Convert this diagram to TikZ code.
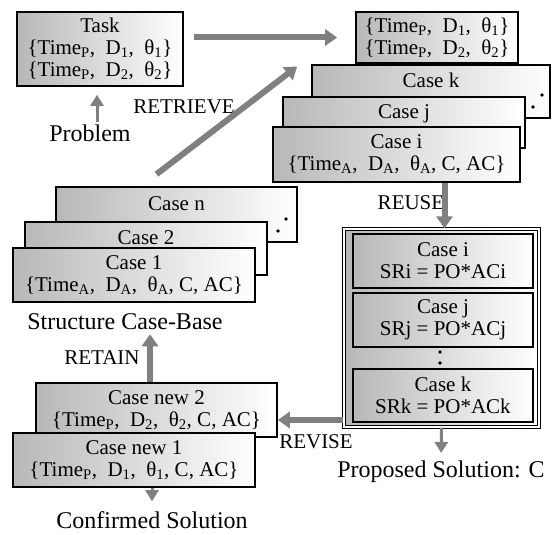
\documentclass[tikz,border=0pt]{standalone}
\usepackage{fontspec}
\setmainfont{Liberation Serif}
\usetikzlibrary{arrows.meta}

\newcommand{\lw}[1]{\textsubscript{#1}}

\begin{document}
\begin{tikzpicture}[x=1pt, y=-1pt, every node/.style={font=\fontsize{21}{22}\selectfont, inner sep=0pt},
	casebox/.style={draw=black, line width=1.6pt, left color=black!28, right color=white, align=center},
	caption/.style={font=\fontsize{24}{26}\selectfont},
	phase/.style={font=\fontsize{21}{22}\selectfont},
	flow/.style={draw=black!50, line width=6pt, -{Triangle[width=16pt,length=12pt]}},
	smallflow/.style={draw=black!50, line width=3pt, -{Triangle[width=13pt,length=11pt]}},
	dotmark/.style={circle, draw=black, fill=white, line width=1.2pt, inner sep=0.8pt}]
				\useasboundingbox (0,0) rectangle (552,535);
				
				% problem and retrieve
				\node[casebox, minimum width=166pt, minimum height=74pt] (task) at (100,49) {Task\\\{Time\lw{P},\ \ D\lw{1},\ \ θ\lw{1}\}\\\{Time\lw{P},\ \ D\lw{2},\ \ θ\lw{2}\}};
				\node[caption] (problem) at (90,133) {Problem};
				\node[phase] (retrieve) at (184,107) {RETRIEVE};
				
				\node[casebox, minimum width=162pt, minimum height=51pt] (query) at (437,37.5) {\{Time\lw{P},\ \ D\lw{1},\ \ θ\lw{1}\}\\\{Time\lw{P},\ \ D\lw{2},\ \ θ\lw{2}\}};
				\node[casebox, minimum width=238pt, minimum height=53pt] (casek) at (431,91.5) {Case k\\\mbox{}};
				\node[dotmark] (kdota) at (542,95) {};
				\node[dotmark] (kdotb) at (533,107) {};
				\node[casebox, minimum width=242pt, minimum height=51pt] (casej) at (404,122.5) {Case j\\\mbox{}};
				\node[casebox, minimum width=247pt, minimum height=55pt] (casei) at (396.5,154.5) {Case i\\\{Time\lw{A},\ \ D\lw{A},\ \ θ\lw{A}, C, AC\}};
				\node[phase] (reuse) at (411,203) {REUSE};
				
				% case base
				\node[casebox, minimum width=241pt, minimum height=55pt] (casen) at (176.5,214.5) {Case n\\\mbox{}};
				\node[dotmark] (ndota) at (286,219) {};
				\node[dotmark] (ndotb) at (278,231) {};
				\node[casebox, minimum width=242pt, minimum height=53pt] (casetwo) at (146,248.5) {Case 2\\\mbox{}};
				\node[casebox, minimum width=242pt, minimum height=54pt] (caseone) at (134,275) {Case 1\\\{Time\lw{A},\ \ D\lw{A},\ \ θ\lw{A}, C, AC\}};
				\node[caption] (structure) at (125,322) {Structure Case-Base};
				\node[phase] (retain) at (102,358) {RETAIN};
				
				% new cases
				\node[casebox, minimum width=241pt, minimum height=54pt] (newtwo) at (156.5,410) {Case new 2\\\{Time\lw{P},\ \ D\lw{2},\ \ θ\lw{2}, C, AC\}};
				\node[casebox, minimum width=242pt, minimum height=54pt] (newone) at (134,460) {Case new 1\\\{Time\lw{P},\ \ D\lw{1},\ \ θ\lw{1}, C, AC\}};
				\node[caption] (confirmed) at (152,520) {Confirmed Solution};
				
				% solutions
				\node[casebox, double, double distance=1.2pt, line width=1.3pt, minimum width=195pt, minimum height=198pt] (sol) at (441.5,328) {};
				\node[casebox, minimum width=180pt, minimum height=54pt] (sri) at (443,261) {Case i\\SRi = PO*ACi};
				\node[casebox, minimum width=180pt, minimum height=54pt] (srj) at (443,320) {Case j\\SRj = PO*ACj};
				\node[dotmark] (sdota) at (440,352) {};
				\node[dotmark] (sdotb) at (440,363) {};
				\node[casebox, minimum width=180pt, minimum height=53pt] (srk) at (443,395.5) {Case k\\SRk = PO*ACk};
				\node[caption] (proposed) at (441,472) {Proposed Solution: C};
				\node[phase] (revise) at (316,442) {REVISE};
				
				\draw[smallflow, shorten <=2pt, shorten >=8pt] ([xshift=7pt]problem.north) -- ([xshift=7pt]problem.north |- task.south);
				\draw[flow, shorten <=10pt, shorten >=18pt] (task.east |- query.west) -- (query.west);
				\draw[flow] ([xshift=-20pt,yshift=12pt]casen.north) -- ([xshift=-14pt,yshift=25pt]casek.west);
				\draw[flow] ([xshift=3pt]sol.north |- casei.south) -- ([xshift=3pt]sol.north);
				\draw[smallflow, shorten >=8pt] (sol.south) -- (proposed.north);
				\draw[flow] ([yshift=-10pt]newtwo.east -| sol.west) -- ([yshift=-10pt]newtwo.east);
				\draw[flow, shorten >=4pt] ([xshift=-6.5pt]newtwo.north) -- ([xshift=-6.5pt]newtwo.north |- structure.south);
				\draw[smallflow, shorten >=10pt] (newone.south -| confirmed.north) -- (confirmed.north);
\end{tikzpicture}
\end{document}
